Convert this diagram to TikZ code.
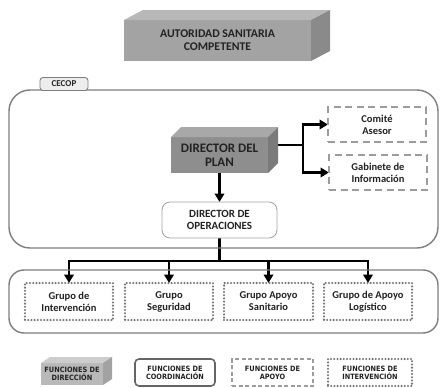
\documentclass[tikz,border=0pt]{standalone}
\usepackage{fontspec}
\setmainfont{Carlito}
\newfontfamily\legfont{DejaVu Sans Condensed}
\usetikzlibrary{arrows.meta,calc,backgrounds}
\definecolor{txt}{HTML}{222222}
\definecolor{frontA}{HTML}{A3A3A3}
\definecolor{topA}{HTML}{B8B8B8}
\definecolor{sideA}{HTML}{8A8A8A}
\definecolor{frontB}{HTML}{8E8E8E}
\definecolor{topB}{HTML}{A8A8A8}
\definecolor{sideB}{HTML}{7A7A7A}
\definecolor{frontC}{HTML}{B9B9B9}
\definecolor{topC}{HTML}{CDCDCD}
\definecolor{sideC}{HTML}{A2A2A2}
\definecolor{frame}{HTML}{7E7E7E}
\definecolor{dashc}{HTML}{9C9C9C}
\definecolor{dotc}{HTML}{747474}
\newcommand{\mycube}[5]{%
  \fill[#4] (#1.north west) -- ++(#2,#3) -- ($(#1.north east)+(#2,#3)$) -- (#1.north east) -- cycle;
  \fill[#5] (#1.north east) -- ++(#2,#3) -- ($(#1.south east)+(#2,#3)$) -- (#1.south east) -- cycle;
}
\tikzset{
  frontbox/.style={inner sep=0pt, outer sep=0pt, align=center, text=txt, font=\bfseries},
  container/.style={draw=frame, line width=1.4pt},
  lbl/.style={font=\bfseries\fontsize{10.5}{12}\selectfont},
  dashbox/.style={draw=dashc, line width=1.6pt, dash pattern=on 7pt off 4.5pt, fill=white, align=center, text=txt, lbl, inner sep=0pt, outer sep=0pt},
  dotbox/.style={draw=dotc, line width=2.3pt, dash pattern=on 0pt off 3.2pt, line cap=round, fill=white, align=center, text=txt, lbl, inner sep=0pt, outer sep=0pt},
  coordbox/.style={draw=frame!80!black, line width=1.6pt, rounded corners=4pt, fill=white, align=center, text=txt, inner sep=0pt, outer sep=0pt},
  opsbox/.style={draw=frame!70, line width=0.9pt, rounded corners=8pt, fill=white, align=center, text=txt, font=\bfseries\fontsize{11}{12.5}\selectfont, inner sep=0pt, outer sep=0pt},
  tabbox/.style={draw=frame, line width=0.9pt, rounded corners=3pt, fill=black!7, text=txt, font=\bfseries\fontsize{9}{10}\selectfont, inner sep=0pt, outer sep=0pt},
  arr/.style={line width=2.3pt, -{Triangle[length=8.5pt,width=9.5pt]}},
  plain/.style={line width=2.3pt},
  legtext/.style={font=\legfont\bfseries\fontsize{7.3}{8}\selectfont}
}
\begin{document}
\begin{tikzpicture}[x=1pt,y=-1pt]
\useasboundingbox (0,0) rectangle (440,388);

% containers
\draw[container, rounded corners=21pt] (9,90) rectangle (438,248);
\draw[container, rounded corners=15pt] (9,270) rectangle (438,333);
\node[tabbox, minimum width=48pt, minimum height=13pt] (cecop) at (64,84) {CECOP};

% autoridad
\node[frontbox, fill=frontA, minimum width=187pt, minimum height=41pt, font=\bfseries\fontsize{11.8}{13}\selectfont] (aut) at (217.5,40.5) {AUTORIDAD SANITARIA\\COMPETENTE};
\mycube{aut}{19}{-10}{topA}{sideA}

% director del plan
\node[frontbox, fill=frontB, minimum width=97pt, minimum height=36pt, font=\bfseries\fontsize{13}{14}\selectfont] (dp) at (219.5,155) {DIRECTOR DEL\\PLAN};
\mycube{dp}{10}{-10}{topB}{sideB}

% side boxes
\node[dashbox, minimum width=98pt, minimum height=35pt] (ca) at (377,124.5) {Comité\\Asesor};
\node[dashbox, minimum width=98pt, minimum height=35pt] (gi) at (378,172.5) {Gabinete de\\Información};

% director de operaciones
\node[opsbox, minimum width=115pt, minimum height=36pt] (dop) at (219.5,220) {DIRECTOR DE\\OPERACIONES};

% groups
\node[dotbox, minimum width=88pt, minimum height=37pt] (g1) at (69,301.5) {Grupo de\\Intervención};
\node[dotbox, minimum width=88pt, minimum height=37pt] (g2) at (169,301.5) {Grupo\\Seguridad};
\node[dotbox, minimum width=89pt, minimum height=37pt] (g3) at (268.5,301.5) {Grupo Apoyo\\Sanitario};
\node[dotbox, minimum width=88pt, minimum height=37pt] (g4) at (368,301.5) {Grupo de Apoyo\\Logístico};

% legend
\node[frontbox, fill=frontC, minimum width=62pt, minimum height=22pt, legtext] (l1) at (72,374) {FUNCIONES DE\\DIRECCIÓN};
\mycube{l1}{9}{-6}{topC}{sideC}
\node[coordbox, minimum width=80pt, minimum height=27pt, legtext] (l2) at (175,372.5) {FUNCIONES DE\\COORDINACIÓN};
\node[dashbox, line width=1.2pt, dash pattern=on 4pt off 2.5pt, minimum width=81pt, minimum height=27pt, legtext] (l3) at (272.5,372.5) {FUNCIONES DE\\APOYO};
\node[dotbox, minimum width=84pt, minimum height=27pt, legtext] (l4) at (370,372.5) {FUNCIONES DE\\INTERVENCIÓN};

% connectors
\begin{scope}[on background layer]
\fill[white] (0,0) rectangle (440,388);
\coordinate (jn) at (303,145);
\draw[plain] ([yshift=10pt]dp.east) -- (jn);
\draw[arr] (jn) |- (ca.west);
\draw[arr] (jn) |- (gi.west);
\draw[arr] (dp.south) -- (dop.north);
\coordinate (bus) at (219.5,261);
\draw[plain] (dop.south) -- (bus);
\draw[arr] (bus) -| (g1.north);
\draw[arr] (bus) -| (g2.north);
\draw[arr] (bus) -| (g3.north);
\draw[arr] (bus) -| (g4.north);
\end{scope}
\end{tikzpicture}
\end{document}
